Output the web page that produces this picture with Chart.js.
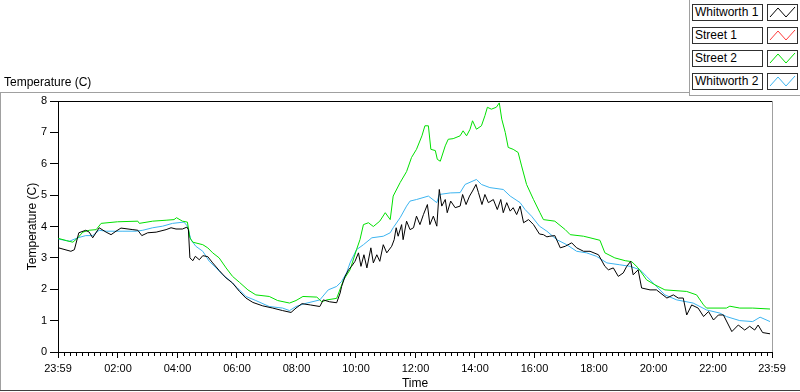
<!DOCTYPE html>
<html lang="en">
<head>
    <meta charset="UTF-8">
    <title>Temperature (C)</title>
    <script src="https://cdn.jsdelivr.net/npm/chart.js"></script>
    <style>
        body {
            margin: 0;
            background: #ffffff;
            font-family: 'Liberation Sans', Arial, sans-serif;
        }
        #wrap {
            position: relative;
            width: 800px;
            height: 392px;
            overflow: hidden;
        }
        canvas { position: absolute; left: 0; top: 0; }
        .line { position: absolute; background: #a0a0a0; }
        #plotTitle {
            position: absolute;
            left: 4px;
            top: 75px;
            font-size: 12px;
            line-height: 14px;
            color: #000;
        }
        .lgLabel, .lgSample {
            position: absolute;
            box-sizing: border-box;
            height: 17px;
            border: 1px solid #303030;
            background: #fff;
        }
        .lgLabel {
            left: 692px;
            width: 71px;
            font-size: 12px;
            line-height: 15px;
            padding-left: 2px;
            white-space: nowrap;
        }
        .lgSample { left: 767px; width: 31px; }
    </style>
</head>
<body>
<div id="wrap">
    <canvas id="tempChart" width="800" height="392"></canvas>
    <div class="line" style="left:0;top:92px;width:689px;height:1px"></div>
    <div class="line" style="left:0;top:92px;width:1px;height:298px"></div>
    <div class="line" style="left:0;top:390px;width:800px;height:1px;background:#404040"></div>
    <div class="line" style="left:689px;top:0;width:1px;height:96px"></div>
    <div class="line" style="left:689px;top:95px;width:111px;height:1px"></div>
    <div id="plotTitle">Temperature (C)</div>
    <div id="legend"></div>
</div>

<script>
    // time in minutes after midnight (-1 = 23:59 of the day before)
    const tickMinutes = [-1, 120, 240, 360, 480, 600, 720, 840, 960, 1080, 1200, 1320, 1439];
    const tickLabels = ["23:59", "02:00", "04:00", "06:00", "08:00", "10:00", "12:00",
                        "14:00", "16:00", "18:00", "20:00", "22:00", "23:59"];
    const minorStep = 12;

    const seriesNames = ["Whitworth 1", "Street 1", "Street 2", "Whitworth 2"];
    const seriesColors = ["#000000", "#ff3c3c", "#00e000", "#3cb4f0"];

    const whitworth1Time = [0, 25, 32, 41, 55, 62, 69, 82, 96, 106, 116, 126, 150, 160, 168, 180, 197, 217, 227, 237,
        250, 259, 262, 265, 271, 276, 284, 291, 301, 311, 324, 338, 351, 365, 378, 392, 412, 432, 452, 469,
        479, 491, 508, 527, 534, 547, 561, 568, 571, 578, 585, 591, 598, 605, 610, 616, 622, 630, 635, 642,
        648, 655, 662, 672, 677, 681, 685, 692, 695, 702, 709, 716, 722, 729, 736, 744, 749, 756, 763, 768,
        773, 780, 784, 791, 800, 810, 815, 822, 829, 835, 842, 847, 854, 860, 867, 877, 885, 892, 897, 904,
        911, 917, 924, 931, 938, 948, 958, 970, 978, 985, 991, 1001, 1012, 1022, 1035, 1045, 1059, 1072, 1089, 1102,
        1109, 1119, 1129, 1139, 1146, 1154, 1159, 1169, 1176, 1193, 1206, 1227, 1240, 1250, 1260, 1267, 1277, 1290, 1301, 1311,
        1321, 1331, 1341, 1358, 1371, 1384, 1394, 1404, 1411, 1420, 1435];
    const whitworth1Temp = [3.32, 3.21, 3.26, 3.80, 3.88, 3.82, 3.64, 3.96, 3.82, 3.74, 3.85, 3.95, 3.90, 3.88, 3.71, 3.80, 3.82, 3.90, 3.96, 3.92,
        3.92, 3.98, 3.90, 3.00, 2.91, 3.05, 2.94, 3.07, 3.04, 2.84, 2.60, 2.36, 2.20, 1.93, 1.72, 1.58, 1.47, 1.40, 1.32, 1.26,
        1.40, 1.54, 1.50, 1.45, 1.66, 1.60, 1.57, 1.88, 2.09, 2.41, 2.62, 2.73, 2.89, 3.16, 2.73, 3.10, 2.68, 3.32, 2.84, 3.10,
        2.89, 3.42, 3.16, 3.37, 3.58, 3.96, 3.69, 4.06, 3.58, 4.17, 3.90, 3.96, 4.33, 4.06, 4.38, 4.70, 4.06, 4.33, 4.01, 5.18,
        4.65, 4.86, 4.44, 4.81, 4.60, 4.65, 5.02, 4.70, 4.97, 5.13, 5.34, 5.08, 4.70, 5.02, 4.76, 4.86, 4.54, 4.86, 4.44, 4.76,
        4.49, 4.60, 4.38, 4.65, 4.12, 4.22, 4.06, 3.76, 3.74, 3.67, 3.69, 3.71, 3.32, 3.37, 3.48, 3.32, 3.21, 3.21, 3.10, 2.73,
        2.62, 2.68, 2.41, 2.52, 2.73, 2.89, 2.46, 2.62, 2.04, 1.98, 1.98, 1.72, 1.82, 1.72, 1.72, 1.18, 1.50, 1.40, 1.13, 1.29,
        1.02, 1.18, 1.18, 0.65, 0.86, 0.70, 0.82, 0.70, 0.86, 0.62, 0.58];

    // Street 1 has no visible trace in the chart
    const street1Time = [];
    const street1Temp = [];

    const street2Time = [0, 16, 29, 39, 49, 62, 76, 86, 119, 160, 163, 190, 217, 233, 238, 250, 260, 265, 271, 291,
        301, 311, 324, 338, 351, 365, 382, 398, 425, 442, 466, 479, 493, 521, 531, 541, 561, 575, 588, 601,
        608, 615, 625, 635, 648, 659, 669, 675, 689, 702, 712, 722, 733, 739, 746, 751, 760, 764, 770,
        780, 786, 796, 810, 816, 823, 830, 835, 843, 853, 860, 865, 873, 883, 889, 894, 901, 907, 917, 927,
        934, 944, 958, 971, 978, 1001, 1022, 1032, 1059, 1072, 1092, 1102, 1122, 1143, 1156, 1169, 1186, 1203, 1223, 1267,
        1287, 1301, 1307, 1347, 1354, 1374, 1400, 1435];
    const street2Temp = [3.62, 3.55, 3.50, 3.64, 3.82, 3.88, 3.90, 4.10, 4.15, 4.17, 4.10, 4.17, 4.20, 4.22, 4.28, 4.17, 4.14, 3.64, 3.50, 3.42,
        3.32, 3.16, 3.00, 2.68, 2.41, 2.22, 1.98, 1.82, 1.77, 1.64, 1.56, 1.64, 1.77, 1.75, 1.60, 1.66, 1.71, 2.30, 2.62, 3.26,
        3.58, 4.06, 4.12, 4.00, 4.17, 4.44, 4.22, 4.97, 5.40, 5.75, 6.20, 6.46, 6.89, 7.21, 7.21, 6.46, 6.42, 6.14, 6.08,
        6.57, 6.78, 6.80, 6.89, 7.05, 6.89, 7.10, 7.37, 7.10, 7.21, 7.53, 7.80, 7.74, 7.80, 7.94, 7.42, 7.00, 6.52, 6.46, 6.36,
        5.93, 5.34, 4.86, 4.44, 4.22, 4.17, 3.90, 3.74, 3.69, 3.64, 3.56, 3.16, 3.00, 2.91, 2.88, 2.68, 2.30, 2.14, 1.98, 1.93,
        1.82, 1.50, 1.40, 1.40, 1.46, 1.40, 1.40, 1.37];

    const whitworth2Time = [0, 22, 39, 55, 69, 82, 96, 130, 157, 170, 190, 210, 230, 253, 260, 267, 277, 291, 304, 318,
        331, 344, 361, 378, 398, 425, 452, 466, 479, 496, 527, 544, 561, 571, 581, 588, 601, 615, 632, 655,
        669, 675, 689, 702, 709, 722, 746, 763, 768, 790, 810, 820, 843, 853, 870, 897, 911, 931, 941, 954,
        970, 985, 1005, 1025, 1045, 1065, 1085, 1106, 1132, 1153, 1173, 1186, 1203, 1223, 1247, 1280, 1307, 1334, 1347,
        1374, 1400, 1415, 1435];
    const whitworth2Temp = [3.60, 3.53, 3.64, 3.71, 3.71, 3.88, 3.85, 3.85, 3.85, 3.88, 3.96, 4.01, 4.10, 4.14, 4.01, 3.58, 3.37, 3.21, 2.89, 2.68,
        2.46, 2.30, 2.04, 1.77, 1.64, 1.45, 1.40, 1.32, 1.45, 1.54, 1.66, 1.98, 2.09, 2.25, 2.52, 2.84, 3.26, 3.42, 3.64, 3.69,
        3.80, 3.96, 4.28, 4.65, 4.81, 4.86, 4.97, 4.76, 5.02, 5.07, 5.08, 5.34, 5.50, 5.34, 5.24, 5.18, 4.97, 4.76, 4.54, 4.33,
        4.01, 3.85, 3.58, 3.42, 3.21, 3.16, 3.05, 2.84, 2.78, 2.73, 2.62, 2.41, 2.14, 1.82, 1.66, 1.56, 1.34, 1.24, 1.13,
        1.00, 0.97, 1.11, 0.97];

    const seriesTimes = [whitworth1Time, street1Time, street2Time, whitworth2Time];
    const seriesTemps = [whitworth1Temp, street1Temp, street2Temp, whitworth2Temp];

    Chart.defaults.font.family = "'Liberation Sans', Arial, sans-serif";
    Chart.defaults.font.size = 11;
    Chart.defaults.color = "#000";

    // frame of the plot area and the small ticks on the time axis
    const framePlugin = {
        id: "frame",
        afterDraw(chart) {
            const c = chart.ctx, a = chart.chartArea, x = chart.scales.x;
            c.save();
            c.lineWidth = 1;
            c.strokeStyle = "#000";
            c.beginPath();
            c.moveTo(a.left, a.top + 0.5);
            c.lineTo(a.right, a.top + 0.5);
            c.stroke();
            c.strokeStyle = "#a0a0a0";
            c.beginPath();
            c.moveTo(a.right + 0.5, a.top);
            c.lineTo(a.right + 0.5, a.bottom);
            c.stroke();
            c.strokeStyle = "#000";
            c.beginPath();
            for (let m = 0; m < 1440; m += minorStep) {
                if (m % 120 === 0) continue;
                const px = Math.round(x.getPixelForValue(m)) + 0.5;
                c.moveTo(px, a.bottom);
                c.lineTo(px, a.bottom + 4);
            }
            c.stroke();
            c.restore();
        }
    };

    const datasets = seriesNames.map((name, i) => ({
        label: name,
        data: seriesTimes[i].map((t, j) => ({ x: t, y: seriesTemps[i][j] })),
        borderColor: seriesColors[i],
        backgroundColor: seriesColors[i],
        borderWidth: 1,
        pointRadius: 0,
        tension: 0,
        fill: false
    }));

    const chart = new Chart(document.getElementById("tempChart"), {
        type: "line",
        data: { datasets: datasets },
        options: {
            responsive: false,
            animation: false,
            layout: { padding: { left: 0, top: 101, right: 28, bottom: 0 } },
            plugins: { legend: { display: false }, tooltip: { enabled: false } },
            scales: {
                x: {
                    type: "linear",
                    min: -1,
                    max: 1439,
                    afterBuildTicks: s => { s.ticks = tickMinutes.map(v => ({ value: v })); },
                    afterFit: s => { s.height = 40; },
                    ticks: {
                        autoSkip: false,
                        maxRotation: 0,
                        padding: 4,
                        callback: (v, i) => tickLabels[i]
                    },
                    grid: { drawOnChartArea: false, color: "#000", tickLength: 6 },
                    border: { color: "#000" },
                    title: { display: true, text: "Time", font: { size: 12 }, padding: { top: 0, bottom: 1 } }
                },
                y: {
                    min: 0,
                    max: 8,
                    afterFit: s => { s.width = 58; },
                    ticks: { stepSize: 1, padding: 3 },
                    grid: { drawOnChartArea: false, color: "#000", tickLength: 8 },
                    border: { color: "#000" },
                    title: { display: true, text: "Temperature (C)", font: { size: 12 }, padding: { top: 25, bottom: 0 } }
                }
            }
        },
        plugins: [framePlugin]
    });

    // legend boxes on the top right
    const legend = document.getElementById("legend");
    chart.data.datasets.forEach((ds, i) => {
        const top = 4 + i * 23;
        const label = document.createElement("div");
        label.className = "lgLabel";
        label.style.top = top + "px";
        label.textContent = ds.label;
        legend.appendChild(label);
        const sample = document.createElement("div");
        sample.className = "lgSample";
        sample.style.top = top + "px";
        sample.innerHTML = '<svg width="29" height="15"><polyline points="2,12 10,3 18,12 27,2" fill="none" stroke="' +
            ds.borderColor + '" stroke-width="1"/></svg>';
        legend.appendChild(sample);
    });
</script>
</body>
</html>
